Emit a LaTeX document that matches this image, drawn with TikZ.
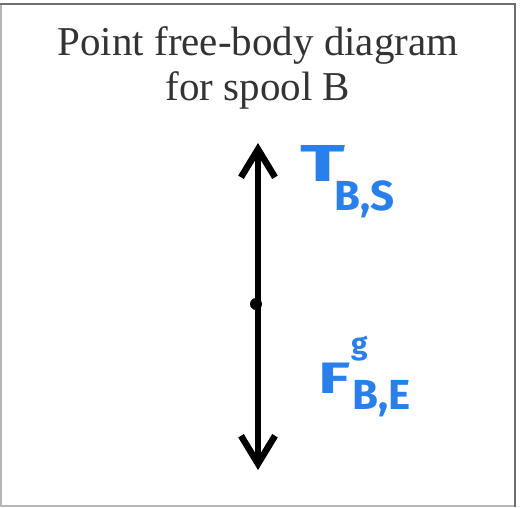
\documentclass[tikz,border=0pt]{standalone}
\usepackage{fontspec}
\usepackage{graphicx}
\setmainfont{Liberation Serif}
\newfontfamily\handfont{Fira Sans}
\usetikzlibrary{arrows.meta}
\definecolor{penblue}{HTML}{2A80EA}
\definecolor{framegray}{HTML}{6E6E6E}
\tikzset{
  force/.style={line width=6.5pt, -{Straight Barb[length=28pt,width=34pt,line width=6.5pt]}, line cap=round},
  handlabel/.style={text=penblue, inner sep=0pt},
  titletext/.style={font=\fontsize{41}{48}\selectfont, text=black!80, anchor=base, inner sep=0pt},
}
\begin{document}
\begin{tikzpicture}[x=1pt,y=-1pt]
\useasboundingbox (0,0) rectangle (522,507);
\draw[framegray!50, line width=1.2pt] (1,4) -- (1,506) -- (515,506);
\draw[framegray, line width=1.5pt] (0,4) -- (515,4) -- (515,507);
\node[titletext] (title1) at (258,55) {Point free-body diagram};
\node[titletext] (title2) at (258,100) {for spool B};
\coordinate (P) at (258,304);
\coordinate (Ptop) at (258,143);
\coordinate (Pbot) at (258,470);
\draw[force] (P) -- (Ptop);
\draw[force] (P) -- (Pbot);
\fill (256,304) circle (6pt);
\node[handlabel, font=\handfont\bfseries\fontsize{52}{52}\selectfont, anchor=north west] (T) at (300,145) {\scalebox{1.6}[1]{T}};
\node[handlabel, font=\handfont\bfseries\fontsize{42}{42}\selectfont, anchor=north west] (Tsub) at (334,180) {B,S};
\node[handlabel, font=\handfont\bfseries\fontsize{44}{44}\selectfont, anchor=north west] (F) at (318,363) {\scalebox{1.5}[1]{F}};
\node[handlabel, font=\handfont\bfseries\fontsize{30}{30}\selectfont, anchor=north west] (Fsup) at (351,336) {g};
\node[handlabel, font=\handfont\bfseries\fontsize{42}{42}\selectfont, anchor=north west] (Fsub) at (352,380) {B,E};
\end{tikzpicture}
\end{document}
